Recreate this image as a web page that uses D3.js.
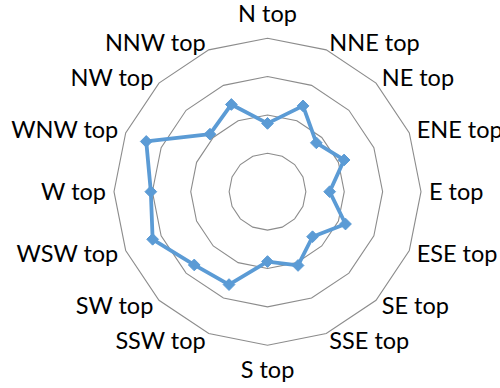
<!DOCTYPE html>
<html>
<head>
<meta charset="utf-8">
<script src="https://cdn.jsdelivr.net/npm/d3@7"></script>
<style>
  html, body { margin: 0; padding: 0; background: #fff; }
  svg { display: block; }
</style>
</head>
<body>
<svg id="chart" width="500" height="388"></svg>
<script>
// Compass directions, clockwise from north
const directions = ["N top", "NNE top", "NE top", "ENE top", "E top", "ESE top", "SE top", "SSE top",
                    "S top", "SSW top", "SW top", "WSW top", "W top", "WNW top", "NW top", "NNW top"];
// Value per direction
const values = [8.9, 12.1, 9.0, 10.8, 8.1, 11.0, 8.3, 10.4,
                9.1, 13.1, 13.5, 16.2, 15.2, 17.1, 10.6, 12.3];
// Grid ring levels
const ringLevels = [5, 10, 15, 20];

const width = 500, height = 388;
const cx = 267.5, cy = 191.7, R = 153.5;

const svg = d3.select("#chart");

const r = d3.scaleLinear().domain([0, 20]).range([0, R]);
const angle = d3.scalePoint().domain(directions).range([0, 2 * Math.PI * (15 / 16)]);

const g = svg.append("g").attr("transform", `translate(${cx},${cy})`);

const radial = d3.lineRadial()
  .angle(d => angle(d.dir))
  .radius(d => r(d.v))
  .curve(d3.curveLinearClosed);

// Polygonal grid rings
g.selectAll("path.ring")
  .data(ringLevels)
  .join("path")
  .attr("class", "ring")
  .attr("d", lv => radial(directions.map(dir => ({ dir, v: lv }))))
  .attr("fill", "none")
  .attr("stroke", "#8c8c8c")
  .attr("stroke-width", 1.1);

// Category labels around the outside
const labelR = R + 8;
g.selectAll("text.cat")
  .data(directions)
  .join("text")
  .attr("class", "cat")
  .each(function (dir) {
    const a = angle(dir);
    const s = Math.sin(a), c = Math.cos(a);
    const x = labelR * s, y = -labelR * c;
    const t = d3.select(this);
    let anchor = "middle", by = y + 8.5;
    if (s > 0.01) anchor = "start";
    else if (s < -0.01) anchor = "end";
    else if (c > 0) by = y - 8;
    else by = y + 25;
    t.attr("x", x).attr("y", by).attr("text-anchor", anchor);
  })
  .attr("font-family", "Lato, 'Open Sans', sans-serif")
  .attr("font-size", 23.5)
  .attr("fill", "#000")
  .text(d => d);

const pts = directions.map((dir, i) => ({ dir, v: values[i] }));

// Series line
g.append("path")
  .attr("d", radial(pts))
  .attr("fill", "none")
  .attr("stroke", "#5b9bd5")
  .attr("stroke-width", 3.8)
  .attr("stroke-linejoin", "round");

// Diamond markers
const diamond = d3.symbol().type(d3.symbolDiamond2).size(88);
g.selectAll("path.marker")
  .data(pts)
  .join("path")
  .attr("class", "marker")
  .attr("transform", d => {
    const a = angle(d.dir);
    return `translate(${r(d.v) * Math.sin(a)},${-r(d.v) * Math.cos(a)})`;
  })
  .attr("d", diamond)
  .attr("fill", "#5b9bd5")
  .attr("stroke", "#5b9bd5")
  .attr("stroke-width", 1);
</script>
</body>
</html>
